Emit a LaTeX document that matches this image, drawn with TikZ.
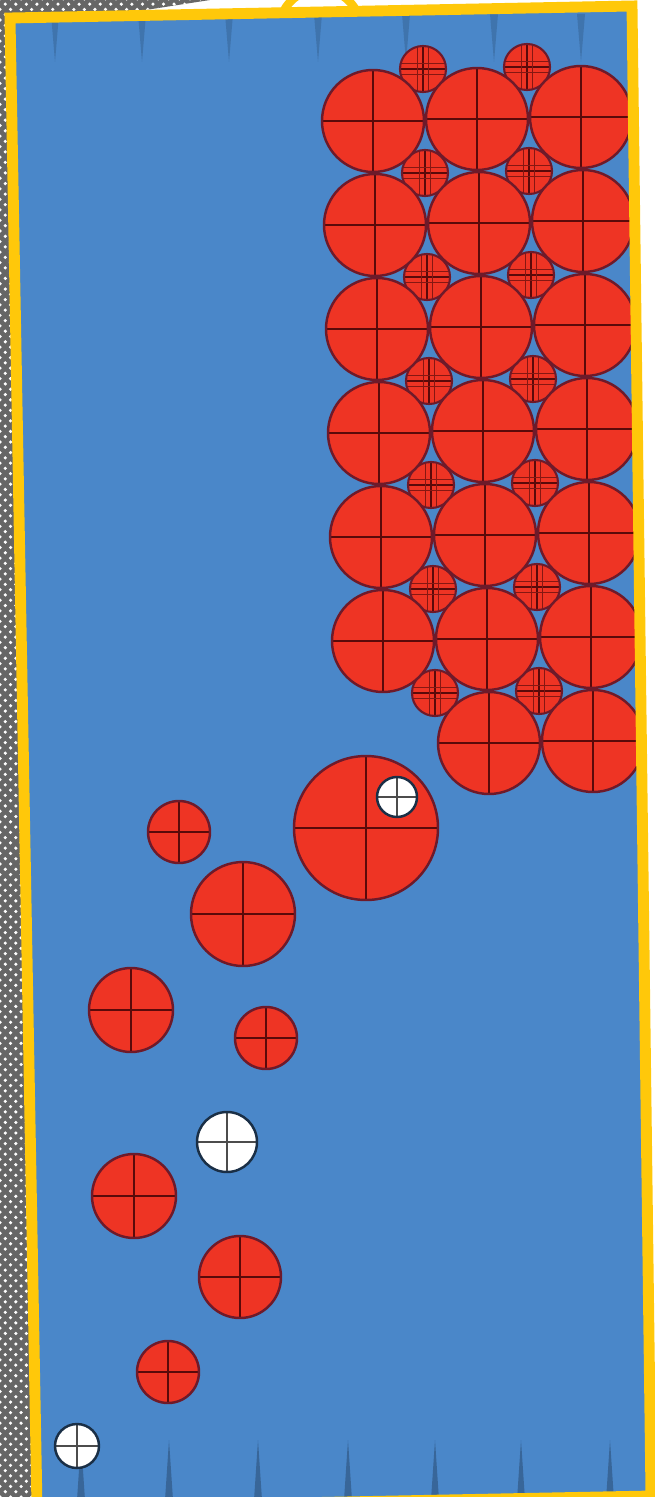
\documentclass[tikz,border=0pt]{standalone}
\usetikzlibrary{patterns}
\definecolor{feltblue}{HTML}{4A87C9}
\definecolor{ballred}{HTML}{EE3424}
\definecolor{ballline}{HTML}{6E1A2A}
\definecolor{crossdark}{HTML}{5A0A0A}
\definecolor{frameyellow}{HTML}{FFC80A}
\tikzset{
  crossed/.style={path picture={
    \draw[draw=#1, line width=0.6pt]
      (path picture bounding box.north) -- (path picture bounding box.south)
      (path picture bounding box.west) -- (path picture bounding box.east);}},
  crossed/.default=crossdark,
  plaid/.style={path picture={
    \draw[draw=crossdark, line width=0.55pt]
      (path picture bounding box.north) -- (path picture bounding box.south)
      (path picture bounding box.west) -- (path picture bounding box.east);
    \draw[draw=crossdark!70!ballred, line width=0.35pt]
      ([xshift=-1.6pt]path picture bounding box.north) -- ([xshift=-1.6pt]path picture bounding box.south)
      ([xshift=1.6pt]path picture bounding box.north) -- ([xshift=1.6pt]path picture bounding box.south)
      ([yshift=-1.6pt]path picture bounding box.west) -- ([yshift=-1.6pt]path picture bounding box.east)
      ([yshift=1.6pt]path picture bounding box.west) -- ([yshift=1.6pt]path picture bounding box.east);}},
  redball/.style={draw=ballline, line width=0.7pt, fill=ballred, crossed},
  bigball/.style={redball},
  smallball/.style={draw=ballline, line width=0.6pt, fill=ballred, plaid},
  whiteball/.style={draw=feltblue!35!black, line width=0.7pt, fill=white, crossed=black!70},
  spike/.style={fill=feltblue!60!black, opacity=0.35},
  frameline/.style={draw=frameyellow, line width=3.1pt, line join=miter}
}
\begin{document}
\begin{tikzpicture}[x=0.01cm,y=-0.01cm]
  \useasboundingbox (0,0) rectangle (654,1497);
  \fill[white] (0,0) rectangle (654,1497);
  \fill[black!60] (0,0) -- (210,0) -- (120,14) -- (10,18) -- (37,1497) -- (0,1497) -- cycle;
  \fill[pattern=crosshatch dots, pattern color=white]
    (0,0) -- (210,0) -- (120,14) -- (10,18) -- (37,1497) -- (0,1497) -- cycle;
  \fill[feltblue] (10,18) -- (632,6) -- (651,1496) -- (37,1508) -- cycle;

  \foreach \x in {55,142,229,318,406,494,581}
    \fill[spike] (\x-4,14) -- (\x+4,14) -- (\x,62) -- cycle;
  \foreach \x in {81,169,258,348,435,521,610}
    \fill[spike, opacity=0.6] (\x-4,1500) -- (\x+4,1500) -- (\x,1440) -- cycle;

  \foreach \r in {-1,...,5}
    \foreach \c in {0,1}
      \draw[smallball] ({425+104*\c+2*\r},{173+104*\r-2*\c}) circle (23);
  \foreach \r in {0,...,5}
    \foreach \c in {0,1,2}
      \draw[bigball] ({373+104*\c+2*\r},{121+104*\r-2*\c}) circle (51);
  \foreach \c in {1,2}
    \draw[bigball] ({385+104*\c},{745-2*\c}) circle (51);

  \draw[bigball] (366,828) circle (72);
  \draw[whiteball] (397,797) circle (20);
  \foreach \x/\y/\rad in {179/832/31, 243/914/52, 131/1010/42, 266/1038/31,
                          134/1196/42, 240/1277/41, 168/1372/31}
    \draw[redball] (\x,\y) circle (\rad);
  \foreach \x/\y/\rad in {227/1142/30, 77/1446/22}
    \draw[whiteball] (\x,\y) circle (\rad);

  \begin{scope}
    \clip (0,-20) rectangle (654,12);
    \draw[draw=frameyellow, line width=2.4pt, fill=white] (320,30) circle (41);
  \end{scope}
  \draw[frameline] (10,18) -- (632,6) -- (651,1496) -- (37,1508) -- cycle;
\end{tikzpicture}
\end{document}
